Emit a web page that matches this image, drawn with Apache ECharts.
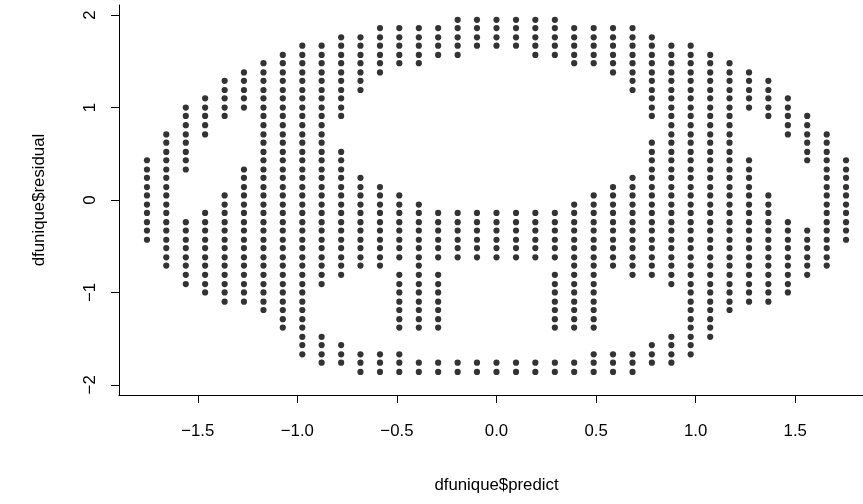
<!DOCTYPE html>
<html><head><meta charset="utf-8">
<script src="https://cdn.jsdelivr.net/npm/echarts@6/dist/echarts.min.js"></script>
<style>html,body{margin:0;padding:0;background:#fff}#c{width:863px;height:504px}</style>
</head><body><div id="c"></div>
<script>
// x position of each column of points (dfunique$predict)
const colX = [-1.755,-1.658,-1.56,-1.463,-1.365,-1.268,-1.17,-1.073,-0.975,-0.878,-0.78,-0.683,-0.585,-0.488,-0.39,-0.293,-0.195,-0.098,0,0.098,0.195,0.293,0.39,0.488,0.585,0.683,0.78,0.878,0.975,1.073,1.17,1.268,1.365,1.463,1.56,1.658,1.755];
// residual values in each column
const colY = [
[0.43,0.33,0.24,0.14,0.05,-0.05,-0.14,-0.24,-0.33,-0.43],
[0.71,0.62,0.52,0.43,0.33,0.24,0.14,0.05,-0.05,-0.14,-0.24,-0.33,-0.43,-0.52,-0.62,-0.71],
[1.00,0.91,0.81,0.71,0.62,0.52,0.43,0.33,-0.24,-0.33,-0.43,-0.52,-0.62,-0.71,-0.81,-0.91],
[1.10,1.00,0.91,0.81,0.71,-0.14,-0.24,-0.33,-0.43,-0.52,-0.62,-0.71,-0.81,-0.91,-1.00],
[1.29,1.19,1.10,1.00,0.91,0.05,-0.05,-0.14,-0.24,-0.33,-0.43,-0.52,-0.62,-0.71,-0.81,-0.91,-1.00,-1.10],
[1.38,1.29,1.19,1.10,1.00,0.33,0.24,0.14,0.05,-0.05,-0.14,-0.24,-0.33,-0.43,-0.52,-0.62,-0.71,-0.81,-0.91,-1.00,-1.10],
[1.48,1.38,1.29,1.19,1.10,1.00,0.91,0.81,0.71,0.62,0.52,0.43,0.33,0.24,0.14,0.05,-0.05,-0.14,-0.24,-0.33,-0.43,-0.52,-0.62,-0.71,-0.81,-0.91,-1.00,-1.10,-1.19],
[1.57,1.48,1.38,1.29,1.19,1.10,1.00,0.91,0.81,0.71,0.62,0.52,0.43,0.33,0.24,0.14,0.05,-0.05,-0.14,-0.24,-0.33,-0.43,-0.52,-0.62,-0.71,-0.81,-0.91,-1.00,-1.10,-1.19,-1.29,-1.38],
[1.67,1.57,1.48,1.38,1.29,1.19,1.10,1.00,0.91,0.81,0.71,0.62,0.52,0.43,0.33,0.24,0.14,0.05,-0.05,-0.14,-0.24,-0.33,-0.43,-0.52,-0.62,-0.71,-0.81,-0.91,-1.00,-1.10,-1.19,-1.29,-1.38,-1.48,-1.57,-1.67],
[1.67,1.57,1.48,1.38,1.29,1.19,1.10,1.00,0.91,0.81,0.71,0.62,0.52,0.43,0.33,0.24,0.14,0.05,-0.05,-0.14,-0.24,-0.33,-0.43,-0.52,-0.62,-0.71,-0.81,-0.91,-1.48,-1.57,-1.67,-1.76],
[1.76,1.67,1.57,1.48,1.38,1.29,1.19,1.10,1.00,0.91,0.52,0.43,0.33,0.24,0.14,0.05,-0.05,-0.14,-0.24,-0.33,-0.43,-0.52,-0.62,-0.71,-0.81,-1.57,-1.67,-1.76],
[1.76,1.67,1.57,1.48,1.38,1.29,1.19,0.24,0.14,0.05,-0.05,-0.14,-0.24,-0.33,-0.43,-0.52,-0.62,-0.71,-1.67,-1.76,-1.86],
[1.86,1.76,1.67,1.57,1.48,1.38,0.14,0.05,-0.05,-0.14,-0.24,-0.33,-0.43,-0.52,-0.62,-0.71,-1.67,-1.76,-1.86],
[1.86,1.76,1.67,1.57,1.48,0.05,-0.05,-0.14,-0.24,-0.33,-0.43,-0.52,-0.62,-0.81,-0.91,-1.00,-1.10,-1.19,-1.29,-1.38,-1.67,-1.76,-1.86],
[1.86,1.76,1.67,1.57,1.48,-0.05,-0.14,-0.24,-0.33,-0.43,-0.52,-0.62,-0.71,-0.81,-0.91,-1.00,-1.10,-1.19,-1.29,-1.38,-1.76,-1.86],
[1.86,1.76,1.67,1.57,-0.14,-0.24,-0.33,-0.43,-0.52,-0.62,-0.81,-0.91,-1.00,-1.10,-1.19,-1.29,-1.38,-1.76,-1.86],
[1.95,1.86,1.76,1.67,1.57,-0.14,-0.24,-0.33,-0.43,-0.52,-0.62,-1.76,-1.86],
[1.95,1.86,1.76,1.67,-0.14,-0.24,-0.33,-0.43,-0.52,-0.62,-1.76,-1.86],
[1.95,1.86,1.76,1.67,-0.14,-0.24,-0.33,-0.43,-0.52,-0.62,-1.76,-1.86],
[1.95,1.86,1.76,1.67,-0.14,-0.24,-0.33,-0.43,-0.52,-0.62,-1.76,-1.86],
[1.95,1.86,1.76,1.67,1.57,-0.14,-0.24,-0.33,-0.43,-0.52,-0.62,-1.76,-1.86],
[1.95,1.86,1.76,1.67,1.57,-0.14,-0.24,-0.33,-0.43,-0.52,-0.62,-0.81,-0.91,-1.00,-1.10,-1.19,-1.29,-1.38,-1.76,-1.86],
[1.86,1.76,1.67,1.57,1.48,-0.05,-0.14,-0.24,-0.33,-0.43,-0.52,-0.62,-0.71,-0.81,-0.91,-1.00,-1.10,-1.19,-1.29,-1.38,-1.76,-1.86],
[1.86,1.76,1.67,1.57,1.48,0.05,-0.05,-0.14,-0.24,-0.33,-0.43,-0.52,-0.62,-0.71,-0.81,-0.91,-1.00,-1.10,-1.19,-1.29,-1.38,-1.67,-1.76,-1.86],
[1.86,1.76,1.67,1.57,1.48,1.38,0.14,0.05,-0.05,-0.14,-0.24,-0.33,-0.43,-0.52,-0.62,-0.71,-1.67,-1.76,-1.86],
[1.86,1.76,1.67,1.57,1.48,1.38,1.29,1.19,0.24,0.14,0.05,-0.05,-0.14,-0.24,-0.33,-0.43,-0.52,-0.62,-0.71,-0.81,-1.67,-1.76,-1.86],
[1.76,1.67,1.57,1.48,1.38,1.29,1.19,1.10,1.00,0.91,0.62,0.52,0.43,0.33,0.24,0.14,0.05,-0.05,-0.14,-0.24,-0.33,-0.43,-0.52,-0.62,-0.71,-0.81,-1.57,-1.67,-1.76],
[1.67,1.57,1.48,1.38,1.29,1.19,1.10,1.00,0.91,0.81,0.71,0.62,0.52,0.43,0.33,0.24,0.14,0.05,-0.05,-0.14,-0.24,-0.33,-0.43,-0.52,-0.62,-0.71,-0.81,-0.91,-1.48,-1.57,-1.67,-1.76],
[1.67,1.57,1.48,1.38,1.29,1.19,1.10,1.00,0.91,0.81,0.71,0.62,0.52,0.43,0.33,0.24,0.14,0.05,-0.05,-0.14,-0.24,-0.33,-0.43,-0.52,-0.62,-0.71,-0.81,-0.91,-1.00,-1.10,-1.19,-1.29,-1.38,-1.48,-1.57,-1.67],
[1.57,1.48,1.38,1.29,1.19,1.10,1.00,0.91,0.81,0.71,0.62,0.52,0.43,0.33,0.24,0.14,0.05,-0.05,-0.14,-0.24,-0.33,-0.43,-0.52,-0.62,-0.71,-0.81,-0.91,-1.00,-1.10,-1.19,-1.29,-1.38,-1.48],
[1.48,1.38,1.29,1.19,1.10,1.00,0.91,0.81,0.71,0.62,0.52,0.43,0.33,0.24,0.14,0.05,-0.05,-0.14,-0.24,-0.33,-0.43,-0.52,-0.62,-0.71,-0.81,-0.91,-1.00,-1.10,-1.19],
[1.38,1.29,1.19,1.10,1.00,0.43,0.33,0.24,0.14,0.05,-0.05,-0.14,-0.24,-0.33,-0.43,-0.52,-0.62,-0.71,-0.81,-0.91,-1.00,-1.10],
[1.29,1.19,1.10,1.00,0.91,0.05,-0.05,-0.14,-0.24,-0.33,-0.43,-0.52,-0.62,-0.71,-0.81,-0.91,-1.00,-1.10],
[1.10,1.00,0.91,0.81,0.71,-0.24,-0.33,-0.43,-0.52,-0.62,-0.71,-0.81,-0.91,-1.00],
[0.91,0.81,0.71,0.62,0.52,0.43,-0.33,-0.43,-0.52,-0.62,-0.71,-0.81],
[0.71,0.62,0.52,0.43,0.33,0.24,0.14,0.05,-0.05,-0.14,-0.24,-0.33,-0.43,-0.52,-0.62,-0.71],
[0.43,0.33,0.24,0.14,0.05,-0.05,-0.14,-0.24,-0.33,-0.43]
];
const xTicks = [-1.5,-1,-0.5,0,0.5,1,1.5];
const xTickLabels = ['\u22121.5','\u22121.0','\u22120.5','0.0','0.5','1.0','1.5'];
const yTicks = [-2,-1,0,1,2];
const yTickLabels = ['\u22122','\u22121','0','1','2'];
const xTitle = 'dfunique$predict';
const yTitle = 'dfunique$residual';

const points = [];
colX.forEach((x, i) => colY[i].forEach(y => points.push([x, y])));
function lab(ticks, labels){ return v => { for (let i=0;i<ticks.length;i++) if (Math.abs(ticks[i]-v)<1e-6) return labels[i]; return ''; }; }
const font = {color:'#000', fontSize:16.8, fontFamily:'Liberation Sans, Arial, sans-serif'};
const chart = echarts.init(document.getElementById('c'), null, {renderer:'canvas'});
chart.setOption({
  animation:false,
  backgroundColor:'#fff',
  grid:{left:119, top:5, width:755, height:390, containLabel:false, outerBoundsMode:'none'},
  xAxis:{type:'value', min:-1.8954, max:1.8954,
    axisLine:{show:true, onZero:false, lineStyle:{color:'#000', width:1}},
    splitLine:{show:false},
    axisTick:{show:true, customValues:xTicks, length:8, lineStyle:{color:'#000', width:1}},
    axisLabel:Object.assign({customValues:xTicks, formatter:lab(xTicks,xTickLabels), margin:28, hideOverlap:false}, font),
    name:xTitle, nameLocation:'middle', nameGap:82, nameTextStyle:font},
  yAxis:{type:'value', min:-2.11, max:2.11,
    axisLine:{show:true, onZero:false, lineStyle:{color:'#000', width:1}},
    splitLine:{show:false},
    axisTick:{show:true, customValues:yTicks, length:8, lineStyle:{color:'#000', width:1}},
    axisLabel:Object.assign({customValues:yTicks, formatter:lab(yTicks,yTickLabels), rotate:90, margin:20, hideOverlap:false}, font),
    name:yTitle, nameLocation:'middle', nameRotate:90, nameGap:71, nameTextStyle:font},
  series:[{type:'scatter', data:points, symbol:'circle', symbolSize:6.2,
    itemStyle:{color:'#000'}, silent:true, clip:false}]
});
</script></body></html>
